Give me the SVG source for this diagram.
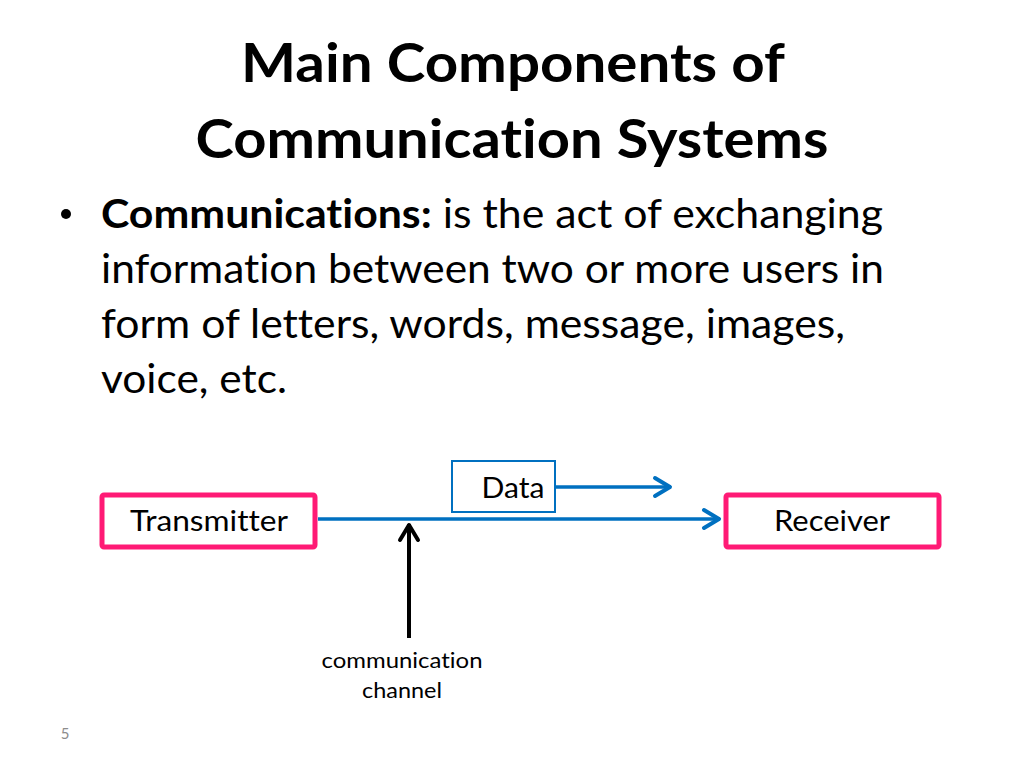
<svg xmlns="http://www.w3.org/2000/svg" width="1024" height="768" viewBox="0 0 1024 768">
<style>
.t{font-family:Lato,"Open Sans","Liberation Sans",sans-serif;fill:#000;font-variant-ligatures:none}
.title{font-size:54px;font-weight:bold}
.body{font-size:40px}
.lbl{font-size:28px}
.small{font-size:22px}
.node{fill:#fff;stroke:#FF1A75;stroke-width:5}
.conn{stroke:#0070C0;stroke-width:3.5;fill:none}
</style>
<defs>
<marker id="ab" markerUnits="userSpaceOnUse" markerWidth="30" markerHeight="30" refX="20" refY="15" orient="auto" viewBox="0 0 30 30">
<polyline points="4,6 19,15 4,24" fill="none" stroke="#0070C0" stroke-width="4" stroke-linecap="round" stroke-linejoin="round"/>
</marker>
<marker id="ak" markerUnits="userSpaceOnUse" markerWidth="30" markerHeight="30" refX="20" refY="15" orient="auto" viewBox="0 0 30 30">
<polyline points="4,6 19,15 4,24" fill="none" stroke="#000" stroke-width="4" stroke-linecap="round" stroke-linejoin="round"/>
</marker>
</defs>
<rect width="1024" height="768" fill="#fff"/>
<text class="t title" x="513" y="82" text-anchor="middle" textLength="544" lengthAdjust="spacingAndGlyphs">Main Components of</text>
<text class="t title" x="512" y="158" text-anchor="middle" textLength="633" lengthAdjust="spacingAndGlyphs">Communication Systems</text>
<circle cx="66" cy="214" r="5" fill="#000"/>
<text class="t body" x="101" y="228" textLength="782" lengthAdjust="spacingAndGlyphs"><tspan font-weight="bold">Communications:</tspan>  is the act of exchanging</text>
<text class="t body" x="101" y="283" textLength="783" lengthAdjust="spacingAndGlyphs">information between two or more users in</text>
<text class="t body" x="101" y="338" textLength="744" lengthAdjust="spacingAndGlyphs">form of letters, words, message, images,</text>
<text class="t body" x="101" y="393" textLength="186" lengthAdjust="spacingAndGlyphs">voice, etc.</text>
<g id="connectors">
<line class="conn" x1="318" y1="519" x2="720" y2="519" marker-end="url(#ab)"/>
<line class="conn" x1="556" y1="487" x2="671" y2="487" marker-end="url(#ab)"/>
<line x1="409" y1="638" x2="409" y2="524" stroke="#000" stroke-width="4" marker-end="url(#ak)"/>
</g>
<g id="transmitter">
<rect class="node" x="102" y="495" width="213" height="52" rx="2"/>
<text class="t lbl" x="209" y="531" text-anchor="middle" textLength="158" lengthAdjust="spacingAndGlyphs">Transmitter</text>
</g>
<g id="receiver">
<rect class="node" x="726" y="495" width="213" height="52" rx="2"/>
<text class="t lbl" x="832" y="531" text-anchor="middle" textLength="116" lengthAdjust="spacingAndGlyphs">Receiver</text>
</g>
<g id="data">
<rect x="452" y="461" width="103" height="51" fill="#fff" stroke="#0070C0" stroke-width="2"/>
<text class="t lbl" x="513" y="498" text-anchor="middle" textLength="63" lengthAdjust="spacingAndGlyphs">Data</text>
</g>
<g id="channel-label">
<text class="t small" x="402" y="668" text-anchor="middle" textLength="161" lengthAdjust="spacingAndGlyphs">communication</text>
<text class="t small" x="402" y="698" text-anchor="middle" textLength="80" lengthAdjust="spacingAndGlyphs">channel</text>
</g>
<text x="65" y="739" text-anchor="middle" font-family="Lato, Open Sans, sans-serif" font-size="15" fill="#8c8c8c">5</text>
</svg>
